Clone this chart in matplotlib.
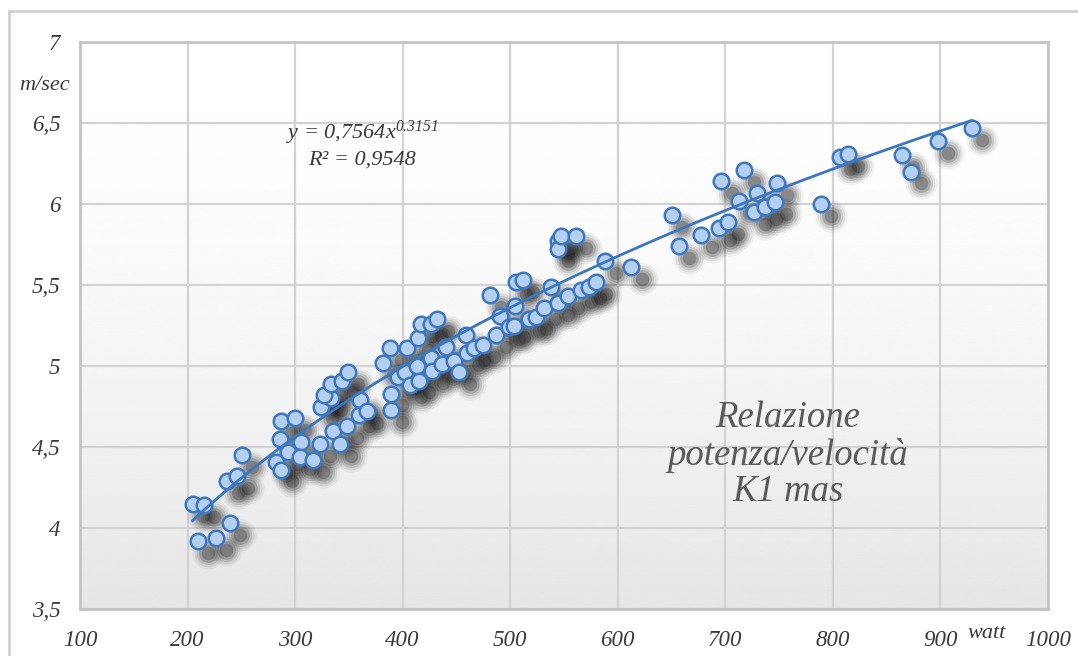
import numpy as np
import matplotlib
matplotlib.use("Agg")
import matplotlib.pyplot as plt
from matplotlib.transforms import offset_copy
from matplotlib.lines import Line2D

plt.rcParams["mathtext.fontset"] = "custom"
plt.rcParams["mathtext.rm"] = "Liberation Serif:italic"
plt.rcParams["mathtext.it"] = "Liberation Serif:italic"

# potenza (watt) e velocita (m/sec)
watt = [204.6, 214.9, 209.4, 226.1, 239.3, 236.8, 246.4, 250.6, 281.8, 287.3,
        285.7, 286.6, 299.5, 293.4, 305.3, 304.3, 316.6, 323.0, 335.2, 342.0,
        347.8, 324.3, 333.3, 326.9, 333.3, 343.9, 348.8, 360.7, 359.1, 366.5,
        381.7, 388.6, 389.6, 389.6, 395.9, 402.0, 403.8, 406.9, 413.2, 413.9,
        414.8, 417.4, 425.9, 432.2, 425.9, 427.4, 436.9, 440.1, 447.3, 452.7,
        459.0, 459.9, 466.2, 474.8, 481.4, 486.4, 490.5, 498.4, 503.2, 504.7,
        505.3, 511.5, 517.4, 523.7,
        531.7, 537.9, 544.1, 544.1, 544.1, 547.2, 553.4, 561.2, 565.8, 573.6,
        579.8, 588.2, 612.4,
        650.4, 656.6, 677.7, 694.4, 702.2, 696.3, 717.0, 712.4, 729.4, 748.0,
        727.0, 737.2, 746.5, 788.9,
        806.4, 814.0, 864.4, 872.3, 897.5, 929.0]
vel = [4.15, 4.14, 3.92, 3.94, 4.03, 4.29, 4.32, 4.45, 4.41, 4.36,
       4.55, 4.66, 4.68, 4.47, 4.53, 4.44, 4.42, 4.52, 4.60, 4.52,
       4.63, 4.75, 4.80, 4.82, 4.89, 4.91, 4.96, 4.79, 4.70, 4.72,
       5.02, 5.11, 4.83, 4.73, 4.93, 4.96, 5.11, 4.88, 5.00, 5.17,
       4.91, 5.26, 5.26, 5.29, 5.05, 4.97, 5.01, 5.12, 5.03, 4.96,
       5.19, 5.08, 5.11, 5.13, 5.44, 5.19, 5.31, 5.24, 5.25, 5.37,
       5.52, 5.53, 5.29, 5.30,
       5.36, 5.49, 5.39, 5.77, 5.72, 5.80, 5.43, 5.80, 5.47, 5.49,
       5.52, 5.65, 5.61,
       5.93, 5.74, 5.81, 5.85, 5.89, 6.14, 6.21, 6.02, 6.07, 6.13,
       5.95, 5.98, 6.01, 6.00,
       6.29, 6.31, 6.30, 6.20, 6.39, 6.47]

# linea di tendenza (potenza) dal grafico
coef = 0.7564
expo = 0.3151
eq_text = "y = 0,7564x$^{0.3151}$\nR² = 0,9548"

xticks = [100, 200, 300, 400, 500, 600, 700, 800, 900, 1000]
yticks = [3.5, 4, 4.5, 5, 5.5, 6, 6.5, 7]
ylabels = ["3,5", "4", "4,5", "5", "5,5", "6", "6,5", "7"]

serif = "Liberation Serif"
blue = "#3d77bd"
fill = "#b5cff0"

fig = plt.figure(figsize=(10.78, 6.56), dpi=100)
ax = fig.add_axes([80 / 1078, 1 - 609 / 656, 968 / 1078, 567 / 656])

# sfondo sfumato dell'area del grafico
t = np.linspace(0, 1, 256).reshape(-1, 1)
grad = 1 - 0.1 * t ** 1.6
ax.imshow(grad, cmap="gray", vmin=0, vmax=1, aspect="auto",
          extent=[0, 1, 0, 1], transform=ax.transAxes, zorder=0)

ax.set_xlim(100, 1000)
ax.set_ylim(3.5, 7)
ax.set_xticks(xticks)
ax.set_yticks(yticks)
ax.set_yticklabels(ylabels)
ax.grid(True, color="#d2d2d2", lw=1.6, zorder=1)
ax.set_axisbelow(True)
for s in ax.spines.values():
    s.set_color("#c4c4c4")
    s.set_linewidth(2)
ax.tick_params(length=0, labelsize=16.5, labelcolor="#3a3a3a")
ax.tick_params(axis="y", pad=14)
ax.tick_params(axis="x", pad=15)
for lab in ax.get_xticklabels() + ax.get_yticklabels():
    lab.set_family(serif)
    lab.set_style("italic")

# ombre sfocate dei punti
tr = offset_copy(ax.transData, fig=fig, x=7.5, y=-8.5, units="points")
for sz, a in [(540, 0.045), (400, 0.07), (280, 0.1), (180, 0.15), (95, 0.2)]:
    ax.scatter(watt, vel, s=sz, color="black", alpha=a, lw=0,
               transform=tr, zorder=2)

ax.scatter(watt, vel, s=125, facecolor=fill, edgecolor=blue, lw=1.8, zorder=3)

xs = np.linspace(min(watt), max(watt), 200)
ax.plot(xs, coef * xs ** expo, color=blue, lw=2, zorder=4)

ax.text(362, 6.37, eq_text, family=serif, style="italic", fontsize=16,
        color="#3a3a3a", ha="center", va="center", linespacing=1.2, zorder=5)
ax.text(758, 4.45, "Relazione\npotenza/velocità\nK1 mas", family=serif,
        style="italic", fontsize=26.5, color="#5a5a5a", ha="center",
        va="center", linespacing=1.08, zorder=5)

fig.text(45 / 1078, 1 - 86 / 656, "m/sec", family=serif, style="italic",
         fontsize=16, color="#3a3a3a", ha="center", va="center")
fig.text(987 / 1078, 1 - 633 / 656, "watt", family=serif, style="italic",
         fontsize=16, color="#3a3a3a", ha="center", va="center")

# cornice esterna del grafico
fig.add_artist(Line2D([9 / 1078, 9 / 1078], [0, 1 - 11 / 656],
                      transform=fig.transFigure, color="#d0d0d0", lw=2))
fig.add_artist(Line2D([9 / 1078, 1], [1 - 11 / 656, 1 - 11 / 656],
                      transform=fig.transFigure, color="#d0d0d0", lw=2))

fig.savefig("out.png", dpi=100)
